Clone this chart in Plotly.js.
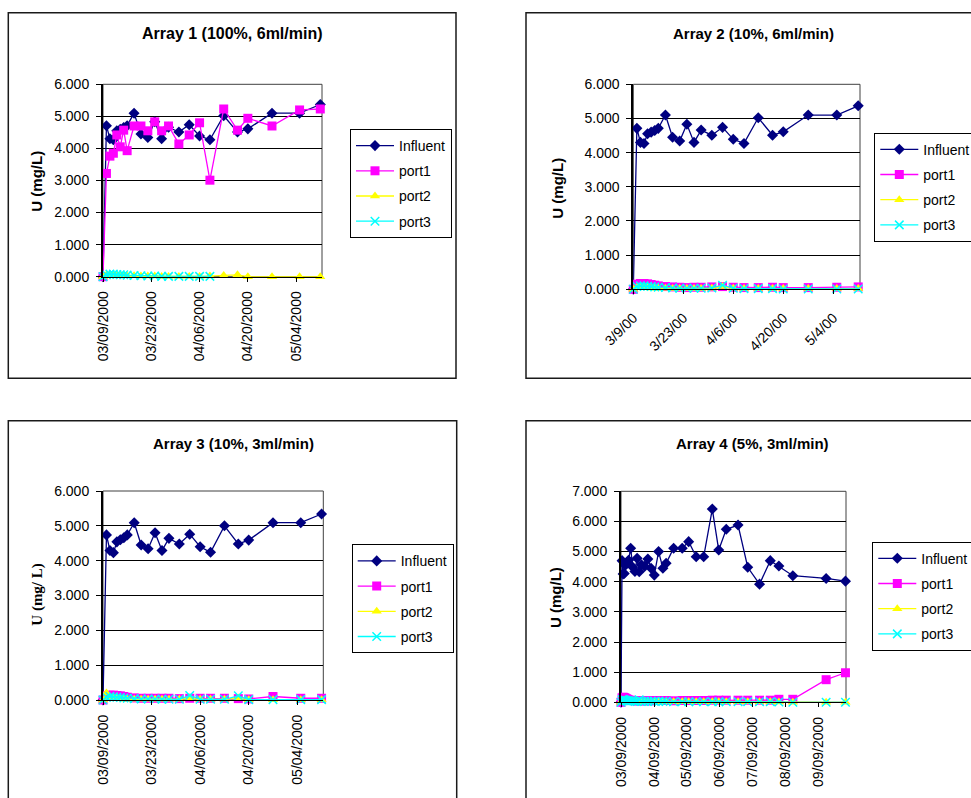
<!DOCTYPE html>
<html>
<head>
<meta charset="utf-8">
<script src="https://cdn.plot.ly/plotly-3.0.1.min.js"></script>
<style>
html,body{margin:0;padding:0;background:#fff;overflow:hidden;width:971px;height:798px;}
#chart{width:990px;height:798px;}
</style>
</head>
<body>
<div id="chart"></div>
<script>
// ---------------- DATA ----------------
const seriesNames = ['Influent', 'port1', 'port2', 'port3'];
const chartTitles = ['Array 1 (100%, 6ml/min)', 'Array 2 (10%, 6ml/min)', 'Array 3 (10%, 3ml/min)', 'Array 4 (5%, 3ml/min)'];
const yTitles = ['U (mg/L)', 'U (mg/L)', 'U (mg/ L)', 'U (mg/L)'];

// sampling dates for arrays 1-3
const datesA = ['2000-03-09','2000-03-10','2000-03-11','2000-03-12','2000-03-13','2000-03-14','2000-03-15','2000-03-16',
  '2000-03-18','2000-03-20','2000-03-22','2000-03-24','2000-03-26','2000-03-28','2000-03-31','2000-04-03',
  '2000-04-06','2000-04-09','2000-04-13','2000-04-17','2000-04-20','2000-04-27','2000-05-05','2000-05-11'];
// sampling dates for array 4
const datesB = ['2000-03-09','2000-03-10','2000-03-11','2000-03-12','2000-03-13','2000-03-14','2000-03-15','2000-03-16',
  '2000-03-18','2000-03-20','2000-03-22','2000-03-24','2000-03-26','2000-03-28','2000-03-31','2000-04-03',
  '2000-04-06','2000-04-09','2000-04-13','2000-04-17','2000-04-20','2000-04-27','2000-05-05','2000-05-11',
  '2000-05-18','2000-05-25','2000-06-02','2000-06-08','2000-06-15','2000-06-26','2000-07-05','2000-07-16',
  '2000-07-26','2000-08-03','2000-08-16','2000-09-16','2000-10-04'];

// Array 1
const a1Influent = [0, 4.71, 4.30, 4.27, 4.55, 4.60, 4.65, 4.71, 5.10, 4.45, 4.34, 4.83, 4.30, 4.66, 4.51, 4.74, 4.39, 4.27, 5.02, 4.51, 4.61, 5.10, 5.10, 5.37];
const a1Port1 = [0, 3.22, 3.76, 3.85, 4.42, 4.05, 4.57, 3.93, 4.70, 4.70, 4.55, 4.83, 4.55, 4.70, 4.14, 4.42, 4.80, 3.01, 5.23, 4.57, 4.94, 4.70, 5.20, 5.23];
const a1Port2 = [0, 0.05, 0.08, 0.06, 0.05, 0.05, 0.04, 0.03, 0.03, 0.02, 0.02, 0.02, 0.01, 0.01, 0.01, 0.01, 0.01, 0.02, 0.04, 0.06, 0.00, 0.00, 0.00, 0.00];
const a1Port3 = [0, 0.06, 0.08, 0.08, 0.07, 0.06, 0.06, 0.05, 0.04, 0.03, 0.02, 0.02, 0.01, 0.01, 0.01, 0.01, 0.01, 0.01];

// Array 2
const a2Influent = [0, 4.71, 4.30, 4.27, 4.55, 4.60, 4.65, 4.71, 5.10, 4.45, 4.34, 4.83, 4.30, 4.66, 4.51, 4.74, 4.39, 4.27, 5.02, 4.51, 4.61, 5.10, 5.10, 5.37];
const a2Port1 = [0, 0.15, 0.17, 0.17, 0.16, 0.14, 0.12, 0.10, 0.08, 0.07, 0.06, 0.05, 0.06, 0.06, 0.07, 0.08, 0.06, 0.05, 0.05, 0.06, 0.05, 0.05, 0.06, 0.07];
const a2Port2 = [0, 0.05, 0.06, 0.05, 0.05, 0.04, 0.04, 0.03, 0.03, 0.02, 0.02, 0.02, 0.02, 0.02, 0.03, 0.08, 0.03, 0.02, 0.02, 0.02, 0.02, 0.02, 0.02, 0.02];
const a2Port3 = [0, 0.08, 0.10, 0.10, 0.09, 0.08, 0.07, 0.06, 0.05, 0.04, 0.03, 0.03, 0.03, 0.03, 0.04, 0.12, 0.03, 0.02, 0.02, 0.02, 0.01, 0.01, 0.01, 0.01];

// Array 3
const a3Influent = [0, 4.74, 4.29, 4.23, 4.54, 4.60, 4.66, 4.74, 5.09, 4.45, 4.34, 4.80, 4.29, 4.64, 4.48, 4.76, 4.40, 4.24, 5.00, 4.48, 4.59, 5.09, 5.09, 5.34];
const a3Port1 = [0, 0.12, 0.14, 0.14, 0.13, 0.12, 0.10, 0.08, 0.06, 0.05, 0.05, 0.05, 0.05, 0.05, 0.04, 0.05, 0.05, 0.05, 0.05, 0.04, 0.03, 0.10, 0.05, 0.05];
const a3Port2 = [0, 0.20, 0.08, 0.06, 0.05, 0.04, 0.03, 0.02, 0.02, 0.02, 0.02, 0.02, 0.02, 0.02, 0.02, 0.06, 0.02, 0.02, 0.02, 0.06, 0.01, 0.01, 0.01, 0.01];
const a3Port3 = [0, 0.08, 0.10, 0.09, 0.08, 0.07, 0.06, 0.05, 0.04, 0.03, 0.03, 0.03, 0.02, 0.02, 0.02, 0.13, 0.02, 0.02, 0.02, 0.12, 0.01, 0.01, 0.01, 0.01];

// Array 4
const a4Influent = [0, 4.70, 4.26, 4.27, 4.55, 4.60, 4.65, 4.71, 5.11, 4.48, 4.34, 4.78, 4.33, 4.56, 4.51, 4.75, 4.45, 4.22, 5.00, 4.45, 4.61, 5.11, 5.11, 5.33,
  4.83, 4.83, 6.41, 5.05, 5.74, 5.88, 4.48, 3.92, 4.70, 4.52, 4.20, 4.11, 4.02];
const a4Port1 = [0, 0.15, 0.17, 0.16, 0.14, 0.12, 0.10, 0.08, 0.07, 0.06, 0.05, 0.05, 0.05, 0.05, 0.05, 0.05, 0.05, 0.06, 0.06, 0.06, 0.06, 0.05, 0.06, 0.06,
  0.06, 0.06, 0.07, 0.07, 0.07, 0.07, 0.07, 0.07, 0.07, 0.10, 0.10, 0.75, 0.98];
const a4Port2 = [0, 0.04, 0.05, 0.04, 0.04, 0.03, 0.03, 0.03, 0.02, 0.02, 0.02, 0.02, 0.02, 0.02, 0.02, 0.02, 0.02, 0.02, 0.02, 0.02, 0.02, 0.02, 0.02, 0.02,
  0.02, 0.02, 0.02, 0.02, 0.02, 0.02, 0.02, 0.02, 0.02, 0.01, 0.00, 0.00, 0.00];
const a4Port3 = [0, 0.08, 0.09, 0.08, 0.07, 0.06, 0.05, 0.05, 0.04, 0.04, 0.03, 0.03, 0.08, 0.03, 0.03, 0.03, 0.03, 0.03, 0.03, 0.03, 0.03, 0.02, 0.02, 0.02,
  0.02, 0.02, 0.02, 0.02, 0.02, 0.02, 0.02, 0.02, 0.02, 0.01, 0.00, 0.00, 0.00];

// axis ticks
const tickDatesA = ['2000-03-09','2000-03-23','2000-04-06','2000-04-20','2000-05-04'];
const tickTextLong = ['03/09/2000','03/23/2000','04/06/2000','04/20/2000','05/04/2000'];
const tickTextShort = ['3/9/00','3/23/00','4/6/00','4/20/00','5/4/00'];
const tickDatesB = ['2000-03-09','2000-04-09','2000-05-09','2000-06-09','2000-07-09','2000-08-09','2000-09-09'];
const tickTextB = ['03/09/2000','04/09/2000','05/09/2000','06/09/2000','07/09/2000','08/09/2000','09/09/2000'];
const yTickVals67 = [0, 1, 2, 3, 4, 5, 6, 7];

// ---------------- LAYOUT HELPERS ----------------
const W = 990, H = 798;   // figure slightly wider than the window: right panels are cut off as in the original
const FONT = 'Liberation Sans, Arial, sans-serif';
const px = v => v / W;
const py = v => 1 - v / H;

const styles = [
  {color: '#000080', symbol: 'diamond', size: 8.5},
  {color: '#FF00FF', symbol: 'square', size: 9},
  {color: '#FFFF00', symbol: 'triangle-up', size: 9},
  {color: '#00FFFF', symbol: 'x-thin', size: 8.5}
];

const panels = [
  {dates: datesA, series: [a1Influent, a1Port1, a1Port2, a1Port3], plot: [103, 322, 84.3, 276.7], box: [8.3, 456, 12.7, 378.3],
   title: [232, 33.3, 16], ytitle: [36.7, 181], legend: [350, 129], yMax: 6, xEnd: '2000-05-11 12:00',
   tickVals: tickDatesA, tickText: tickTextLong, tickAngle: -90, tickStandoff: 4},
  {dates: datesA, series: [a2Influent, a2Port1, a2Port2, a2Port3], plot: [633.3, 860, 84.3, 289.3], box: [526, 985, 12.7, 378.3],
   title: [753.8, 33.3, 15], ytitle: [556.7, 188], legend: [874.3, 132.7], yMax: 6, xEnd: '2000-05-11 12:00',
   tickVals: tickDatesA, tickText: tickTextShort, tickAngle: -45, tickStandoff: 10},
  {dates: datesA, series: [a3Influent, a3Port1, a3Port2, a3Port3], plot: [103, 323.3, 491, 700], box: [8.3, 456.7, 420.7, 802],
   title: [233.3, 443.3, 15], ytitle: [36.7, 594], legend: [351.7, 544.3], yMax: 6, xEnd: '2000-05-11 12:00',
   tickVals: tickDatesA, tickText: tickTextLong, tickAngle: -90, tickStandoff: 4, serifY: true},
  {dates: datesB, series: [a4Influent, a4Port1, a4Port2, a4Port3], plot: [621, 846, 491.3, 702.3], box: [526, 985, 420.7, 802],
   title: [752.2, 443.3, 15], ytitle: [555, 598], legend: [872.3, 541.7], yMax: 7, xEnd: '2000-10-04 12:00',
   tickVals: tickDatesB, tickText: tickTextB, tickAngle: -90, tickStandoff: 4}
];

const traces = [];
const layout = {
  width: W, height: H,
  margin: {l: 0, r: 0, t: 0, b: 0, pad: 0},
  paper_bgcolor: '#ffffff', plot_bgcolor: '#ffffff',
  font: {family: FONT, size: 14, color: '#000'},
  showlegend: true,
  annotations: [], shapes: []
};

panels.forEach((p, i) => {
  const n = i + 1;
  const xa = n === 1 ? 'x' : 'x' + n;
  const ya = n === 1 ? 'y' : 'y' + n;
  const lg = n === 1 ? 'legend' : 'legend' + n;
  p.series.forEach((vals, s) => {
    const st = styles[s];
    const marker = {symbol: st.symbol, size: st.size, color: st.color};
    if (st.symbol === 'x-thin') marker.line = {color: st.color, width: 1.5};
    else marker.line = {width: 0};
    traces.push({
      type: 'scatter', mode: 'lines+markers',
      x: p.dates.slice(0, vals.length), y: vals,
      name: seriesNames[s],
      xaxis: xa, yaxis: ya, legend: lg, legendgroup: 'g' + n + '_' + s,
      line: {color: st.color, width: 1.3},
      marker: marker, cliponaxis: false, hoverinfo: 'x+y+name'
    });
  });

  const [l, r, t, b] = p.plot;
  layout['xaxis' + (n === 1 ? '' : n)] = {
    domain: [px(l), px(r)], anchor: ya, type: 'date',
    range: [p.dates[0], p.xEnd],
    tickmode: 'array', tickvals: p.tickVals, ticktext: p.tickText, tickangle: p.tickAngle,
    tickfont: {family: FONT, size: 14, color: '#000'}, ticklabelstandoff: p.tickStandoff,
    ticks: 'outside', ticklen: 4, tickcolor: '#000', tickwidth: 1,
    showline: true, linecolor: '#000', linewidth: 1,
    showgrid: false, zeroline: false, fixedrange: true
  };
  layout['yaxis' + (n === 1 ? '' : n)] = {
    domain: [py(b), py(t)], anchor: xa,
    range: [0, p.yMax], tickmode: 'array',
    tickvals: yTickVals67.slice(0, p.yMax + 1),
    ticktext: yTickVals67.slice(0, p.yMax + 1).map(v => v.toFixed(3)),
    tickfont: {family: FONT, size: 14, color: '#000'},
    ticks: 'outside', ticklen: 5, tickcolor: '#000', tickwidth: 1, ticklabelstandoff: 4,
    showline: true, linecolor: '#000', linewidth: 2,
    showgrid: true, gridcolor: '#000', gridwidth: 1,
    zeroline: false, fixedrange: true
  };
  layout[lg] = {
    x: px(p.legend[0]), y: py(p.legend[1]), xanchor: 'left', yanchor: 'top',
    xref: 'paper', yref: 'paper',
    bgcolor: '#fff', bordercolor: '#000', borderwidth: 1,
    font: {family: FONT, size: 14, color: '#000'},
    traceorder: 'grouped', tracegroupgap: 4, itemwidth: 38
  };
  // chart title
  layout.annotations.push({
    text: '<b>' + chartTitles[i] + '</b>', xref: 'paper', yref: 'paper',
    x: px(p.title[0]), y: py(p.title[1]), xanchor: 'center', yanchor: 'middle',
    showarrow: false, font: {family: FONT, size: p.title[2], color: '#000'}
  });
  // y axis title
  layout.annotations.push({
    text: '<b>' + yTitles[i] + '</b>', xref: 'paper', yref: 'paper',
    x: px(p.ytitle[0]), y: py(p.ytitle[1]), xanchor: 'center', yanchor: 'middle',
    textangle: -90, showarrow: false,
    font: {family: p.serifY ? 'Liberation Serif, Times New Roman, serif' : FONT, size: 15, color: '#000'}
  });
  // chart area frame
  layout.shapes.push({
    type: 'rect', xref: 'paper', yref: 'paper',
    x0: px(p.box[0]), x1: px(p.box[1]), y0: py(p.box[3]), y1: py(p.box[2]),
    line: {color: '#1a1a1a', width: 1.5}, fillcolor: 'rgba(0,0,0,0)'
  });
  // plot area frame (top / right)
  layout.shapes.push({
    type: 'rect', xref: xa + ' domain', yref: ya + ' domain',
    x0: 0, x1: 1, y0: 0, y1: 1, layer: 'below',
    line: {color: '#404040', width: 1}, fillcolor: 'rgba(0,0,0,0)'
  });
});

Plotly.newPlot('chart', traces, layout, {displayModeBar: false, staticPlot: true});
</script>
</body>
</html>
